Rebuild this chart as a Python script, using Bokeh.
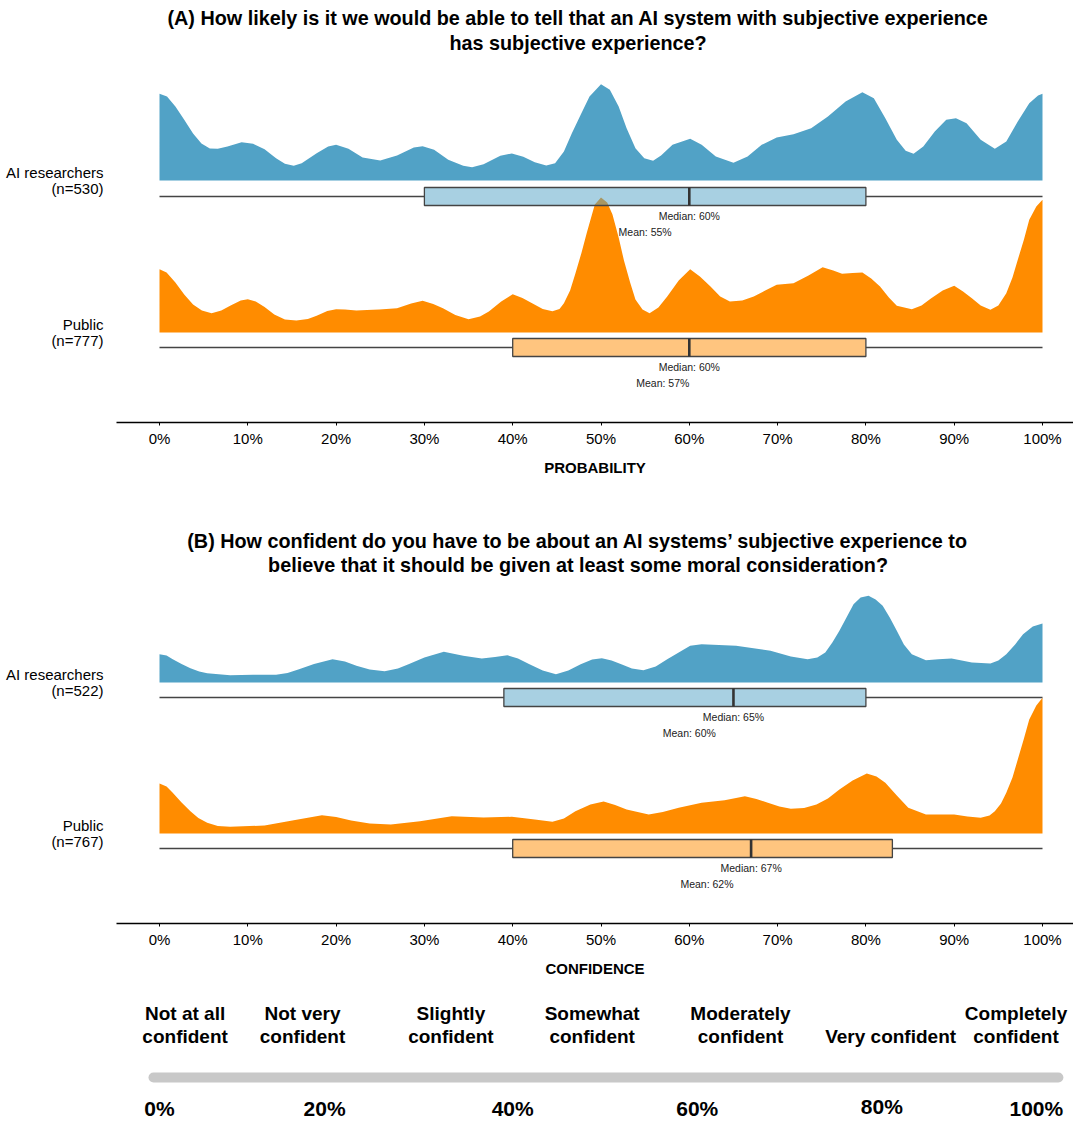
import numpy as np
from bokeh.plotting import figure
from bokeh.models import Range1d, FixedTicker
from bokeh.layouts import column
from bokeh.embed import file_html
from bokeh.resources import INLINE
from bokeh.core.properties import value

FONT = "Liberation Sans"
AI_COLOR = "#51a2c6"
PUB_COLOR = "#ff8c00"

# ---------------- data ----------------
x_ticks = [0, 10, 20, 30, 40, 50, 60, 70, 80, 90, 100]
x_tick_labels = ["0%", "10%", "20%", "30%", "40%", "50%", "60%", "70%", "80%", "90%", "100%"]

# Panel A
a_title = ["(A) How likely is it we would be able to tell that an AI system with subjective experience",
           "has subjective experience?"]
a_axis_label = "PROBABILITY"
a_groups = ["AI researchers\n(n=530)", "Public\n(n=777)"]
a_ai_x = [0, 0.85, 1.8, 2.8, 3.8, 4.75, 5.7, 6.6, 7.7, 9.3, 10.6, 11.9, 13.2, 14.2, 15.2, 16.1, 17.8, 19.1,
          20.0, 21.4, 23.0, 25.0, 26.9, 28.8, 29.8, 31.1, 32.7, 34.4, 35.4, 36.7, 38.6, 39.9, 41.2, 42.5,
          43.8, 44.8, 45.8, 46.7, 47.7, 48.7, 50.0, 51.0, 52.0, 52.9, 53.9, 54.9, 55.9, 56.8, 58.1, 60.1,
          61.4, 63.0, 65.0, 66.6, 68.2, 69.9, 71.8, 73.8, 75.7, 77.7, 79.6, 80.9, 82.2, 83.5, 84.5, 85.4,
          86.5, 87.8, 89.1, 90.2, 91.4, 93.0, 94.6, 95.9, 97.2, 98.5, 99.5, 100]
a_ai_density = [86.7, 84, 74, 60.7, 47, 37, 32, 31.7, 34, 38.3, 36.7, 31.3, 22.3, 16.7, 14.7, 17.3, 27.3, 34,
                35.7, 31.7, 23, 20, 25, 33, 34.3, 30.7, 20.7, 14.7, 13.3, 16.3, 24.7, 27, 23.7, 18.3,
                15, 17.3, 29, 47.3, 65.7, 84, 96.3, 90.7, 74, 52.3, 32.3, 22.3, 19.7, 25, 35.7, 41.7,
                35.7, 24, 17.7, 24, 35.7, 43, 46.3, 52.3, 64, 79, 88.3, 82.3, 62.3, 40.7, 29.7, 26.7,
                34, 49, 60.7, 62.3, 57.3, 40.7, 31.7, 39, 59, 77.3, 85, 86.7]
a_pub_x = [0, 0.8, 1.8, 2.8, 3.8, 4.8, 5.9, 7.0, 8.0, 9.2, 10.0, 10.9, 11.9, 13.0, 14.2, 15.5, 16.8, 17.8,
           19.0, 20.0, 21.0, 22.3, 23.5, 24.9, 26.9, 28.5, 29.8, 31.0, 32.1, 33.5, 35.0, 36.3, 37.3, 38.7,
           40.0, 41.1, 42.2, 43.4, 44.5, 45.3, 45.8, 46.5, 47.1, 47.8, 48.4, 49.3, 50.0, 50.7, 51.3, 52.0,
           52.6, 53.3, 53.9, 54.7, 55.5, 56.5, 57.5, 58.8, 60.1, 61.2, 62.4, 63.5, 64.6, 66.0, 67.3, 68.6,
           69.9, 71.8, 73.5, 75.1, 76.3, 77.3, 78.5, 79.6, 80.6, 81.6, 82.6, 83.5, 85.2, 86.3, 87.4, 88.7,
           90.0, 91.0, 92.0, 93.0, 94.1, 95.0, 95.9, 96.6, 97.2, 97.9, 98.5, 99.3, 100]
a_pub_density = [63.3, 60, 50, 38, 28, 22, 19.3, 22, 26.7, 32, 33.3, 31, 25.5, 18, 13, 12, 13.5, 16.7,
                 21.5, 23.3, 23, 22, 22.5, 23, 24.3, 29, 31.7, 28.5, 24.3, 17.5, 13.3, 16, 21, 31,
                 38.3, 34.5, 29.3, 23.5, 21.3, 23.5, 29.3, 42, 59, 80, 100, 128, 135, 130, 118, 95,
                 72, 50, 33, 23, 19.3, 25, 36, 52, 63.3, 56, 46, 36, 31, 32, 36, 42,
                 47.7, 49.3, 57, 65.3, 62, 58.7, 59.5, 60, 54, 46, 35, 26.7, 23.3, 27, 34.3, 42,
                 46.7, 41, 34.3, 27, 22.7, 27, 39.3, 55, 72.7, 93, 112.7, 126, 132.7]
a_min = [0, 0]
a_q1 = [30, 40]
a_median = [60, 60]
a_q3 = [80, 80]
a_max = [100, 100]
a_mean = [55, 57]

# Panel B
b_title = ["(B) How confident do you have to be about an AI systems\u2019 subjective experience to",
           "believe that it should be given at least some moral consideration?"]
b_axis_label = "CONFIDENCE"
b_groups = ["AI researchers\n(n=522)", "Public\n(n=767)"]
b_ai_x = [0, 0.8, 1.5, 2.5, 3.5, 4.5, 5.4, 8.0, 10.6, 13.2, 14.5, 15.8, 17.5, 19.6, 21.0, 22.3, 23.8, 25.5,
          27.0, 28.2, 30.0, 32.2, 34.4, 36.5, 38.0, 39.4, 40.6, 41.9, 43.4, 44.9, 46.3, 47.7, 49.0, 50.1,
          51.2, 52.3, 53.5, 54.8, 56.2, 57.5, 58.8, 60.1, 61.4, 65.3, 69.2, 71.5, 73.4, 74.5, 75.4, 76.2,
          77.0, 77.8, 78.6, 79.4, 80.3, 81.1, 81.9, 82.7, 83.5, 84.3, 85.2, 86.8, 88.2, 89.7, 92.0, 94.1,
          95.0, 95.9, 96.9, 97.8, 98.9, 100]
b_ai_density = [28.3, 27, 23.3, 18.5, 14.3, 11, 9.3, 7.3, 7.7, 7.7, 9.5, 13.3, 18.5, 23.3, 21, 16.7, 13, 11.3,
                14, 18.3, 25, 30.7, 26.7, 24, 25.5, 27.3, 24, 18.3, 12, 8.3, 12, 18.3, 23, 24.3,
                22, 18.3, 14, 12.3, 16, 23.3, 30, 36.7, 38.3, 36.7, 31.7, 26, 23.3, 25, 30, 40,
                51.7, 65, 78.3, 85, 86.7, 83, 76.7, 65, 51.7, 38, 28.3, 22.3, 23.3, 24, 20, 19,
                22, 28.3, 38, 48.3, 56, 59]
b_pub_x = [0, 0.8, 1.5, 2.5, 3.5, 4.4, 5.4, 6.6, 8.0, 11.9, 15.2, 18.4, 20.0, 21.7, 23.8, 26.2, 29.5, 33.1,
           36.7, 39.9, 42.5, 44.5, 45.8, 47.1, 48.8, 50.3, 51.6, 52.9, 55.4, 57.0, 58.8, 61.4, 64.0, 66.3,
           67.6, 68.9, 70.2, 71.5, 73.0, 74.4, 75.7, 77.0, 78.5, 80.1, 81.2, 82.2, 83.5, 84.8, 86.8, 90.0,
           91.5, 93.0, 94.0, 94.6, 95.3, 95.9, 96.6, 97.2, 97.9, 98.5, 99.3, 100]
b_pub_density = [50, 47, 40.7, 31, 22.3, 15.5, 10.7, 7.5, 6.7, 8, 13.3, 18.3, 16.5, 13, 10, 9, 12.3, 17.3,
                 16, 16.7, 14, 11.7, 15, 22.3, 29, 32, 28.5, 24, 19, 21.5, 25.7, 30.7, 33.3, 37.3,
                 34.5, 30.7, 27, 24.7, 25.5, 29, 35, 44, 53, 60, 57, 50.7, 38, 25.7, 19, 19,
                 17, 15.7, 18, 22.3, 30, 40.7, 56, 74, 95, 114, 128, 135.7]
b_min = [0, 0]
b_q1 = [39, 40]
b_median = [65, 67]
b_q3 = [80, 83]
b_max = [100, 100]
b_mean = [60, 62]

# Bottom confidence scale
scale_labels = ["Not at all\nconfident", "Not very\nconfident", "Slightly\nconfident", "Somewhat\nconfident",
                "Moderately\nconfident", "Very confident", "Completely\nconfident"]
scale_pcts = ["0%", "20%", "40%", "60%", "80%", "100%"]

# ---------------- layout ----------------
W = 1073
PX_PER_PCT = 8.83
FRAME_LEFT = 116
ZERO_PX = 159
X_START = (FRAME_LEFT - ZERO_PX) / PX_PER_PCT
X_END = (W - ZERO_PX) / PX_PER_PCT
BORDER_BOTTOM = 70
TITLE_X = 47.4


def pct_label(v):
    return f"{v:g}%"


def make_panel(top, axis_y, title_lines, title_ys, axis_label, groups, baselines, box_centers,
               ridges, mins, q1s, meds, q3s, maxs, means):
    height = axis_y - top + BORDER_BOTTOM
    p = figure(width=W, height=height, x_range=Range1d(X_START, X_END),
               y_range=Range1d(axis_y, top), output_backend="svg", toolbar_location=None,
               min_border_left=FRAME_LEFT, min_border_right=0, min_border_top=0,
               min_border_bottom=BORDER_BOTTOM, title=None)
    p.outline_line_color = None
    p.xgrid.visible = False
    p.ygrid.visible = False
    p.background_fill_color = "white"
    p.border_fill_color = "white"

    # ridges
    for (xs, dens, color), base in zip(ridges, baselines):
        xs = np.asarray(xs, float)
        d = np.asarray(dens, float)
        p.varea(x=xs, y1=np.full_like(xs, base), y2=base - d, fill_color=color, fill_alpha=1.0)

    # boxplots
    colors = [AI_COLOR, PUB_COLOR]
    for i in range(len(groups)):
        c = box_centers[i]
        p.segment(x0=[mins[i], q3s[i]], y0=[c, c], x1=[q1s[i], maxs[i]], y1=[c, c],
                  line_color="#444444", line_width=1.3)
        p.quad(left=[q1s[i]], right=[q3s[i]], top=[c - 9], bottom=[c + 9],
               fill_color=colors[i], fill_alpha=0.5, line_color="#444444", line_width=1.3)
        p.segment(x0=[meds[i]], y0=[c - 9], x1=[meds[i]], y1=[c + 9],
                  line_color="#333333", line_width=2.6)
        p.text(x=[meds[i]], y=[c + 19], text=["Median: " + pct_label(meds[i])],
               text_font=value(FONT), text_font_size="10.5px", text_align="center",
               text_baseline="middle", text_color="#222222")
        p.text(x=[means[i]], y=[c + 35], text=["Mean: " + pct_label(means[i])],
               text_font=value(FONT), text_font_size="10.5px", text_align="center",
               text_baseline="middle", text_color="#222222")

    # title
    p.text(x=[TITLE_X] * len(title_lines), y=title_ys, text=title_lines,
           text_font=value(FONT), text_font_size="19.8px", text_font_style="bold",
           text_align="center", text_baseline="middle", text_color="black")

    # x axis
    xa = p.xaxis[0]
    xa.ticker = FixedTicker(ticks=x_ticks)
    xa.major_label_overrides = {t: l for t, l in zip(x_ticks, x_tick_labels)}
    xa.minor_tick_line_color = None
    xa.major_tick_in = 0
    xa.major_tick_out = 3
    xa.major_tick_line_color = "black"
    xa.axis_line_color = "black"
    xa.axis_line_width = 1.3
    xa.major_label_text_font = FONT
    xa.major_label_text_font_size = "15px"
    xa.major_label_text_color = "black"
    xa.major_label_standoff = 4
    xa.axis_label = axis_label
    xa.axis_label_text_font = FONT
    xa.axis_label_text_font_size = "15px"
    xa.axis_label_text_font_style = "bold"
    xa.axis_label_text_color = "black"
    xa.axis_label_standoff = 9

    # y axis (group labels)
    ya = p.yaxis[0]
    ya.ticker = FixedTicker(ticks=baselines)
    ya.major_label_overrides = {b: g for b, g in zip(baselines, groups)}
    ya.axis_line_color = None
    ya.major_tick_line_color = None
    ya.minor_tick_line_color = None
    ya.major_label_text_font = FONT
    ya.major_label_text_font_size = "15px"
    ya.major_label_text_color = "black"
    ya.major_label_text_line_height = 0.92
    ya.major_label_standoff = 7
    return p


pA = make_panel(top=0, axis_y=422, title_lines=a_title, title_ys=[17, 42], axis_label=a_axis_label,
                groups=a_groups, baselines=[180, 332], box_centers=[196, 347],
                ridges=[(a_ai_x, a_ai_density, AI_COLOR), (a_pub_x, a_pub_density, PUB_COLOR)],
                mins=a_min, q1s=a_q1, meds=a_median, q3s=a_q3, maxs=a_max, means=a_mean)

pB = make_panel(top=492, axis_y=923, title_lines=b_title, title_ys=[540, 564], axis_label=b_axis_label,
                groups=b_groups, baselines=[682, 833], box_centers=[697, 848],
                ridges=[(b_ai_x, b_ai_density, AI_COLOR), (b_pub_x, b_pub_density, PUB_COLOR)],
                mins=b_min, q1s=b_q1, meds=b_median, q3s=b_q3, maxs=b_max, means=b_mean)

# bottom scale
S_TOP, S_BOT = 993, 1122
pC = figure(width=W, height=S_BOT - S_TOP, x_range=Range1d(X_START, X_END),
            y_range=Range1d(S_BOT, S_TOP), output_backend="svg", toolbar_location=None,
            min_border_left=FRAME_LEFT, min_border_right=0, min_border_top=0, min_border_bottom=0,
            title=None)
pC.axis.visible = False
pC.xgrid.visible = False
pC.ygrid.visible = False
pC.outline_line_color = None

label_x = [2.9, 16.2, 33.0, 49.0, 65.8, 82.8, 97.0]
pct_x = [0, 18.7, 40.0, 60.9, 81.8, 99.3]
pct_y = [1108, 1108, 1108, 1108, 1106, 1108]

pC.line(x=[-0.68, 101.8], y=[1077, 1077], line_width=10, line_color="#c8c8c8", line_cap="round")

line1 = [s.split("\n")[0] if "\n" in s else "" for s in scale_labels]
line2 = [s.split("\n")[1] if "\n" in s else s for s in scale_labels]
pC.text(x=label_x, y=[1013] * len(line1), text=line1, text_font=value(FONT), text_font_size="19px",
        text_font_style="bold", text_align="center", text_baseline="middle", text_color="black")
pC.text(x=label_x, y=[1036] * len(line2), text=line2, text_font=value(FONT), text_font_size="19px",
        text_font_style="bold", text_align="center", text_baseline="middle", text_color="black")
pC.text(x=pct_x, y=pct_y, text=scale_pcts, text_font=value(FONT), text_font_size="21px",
        text_font_style="bold", text_align="center", text_baseline="middle", text_color="black")

layout = column(pA, pB, pC, spacing=0)
open("out.html", "w").write(file_html(layout, INLINE))
